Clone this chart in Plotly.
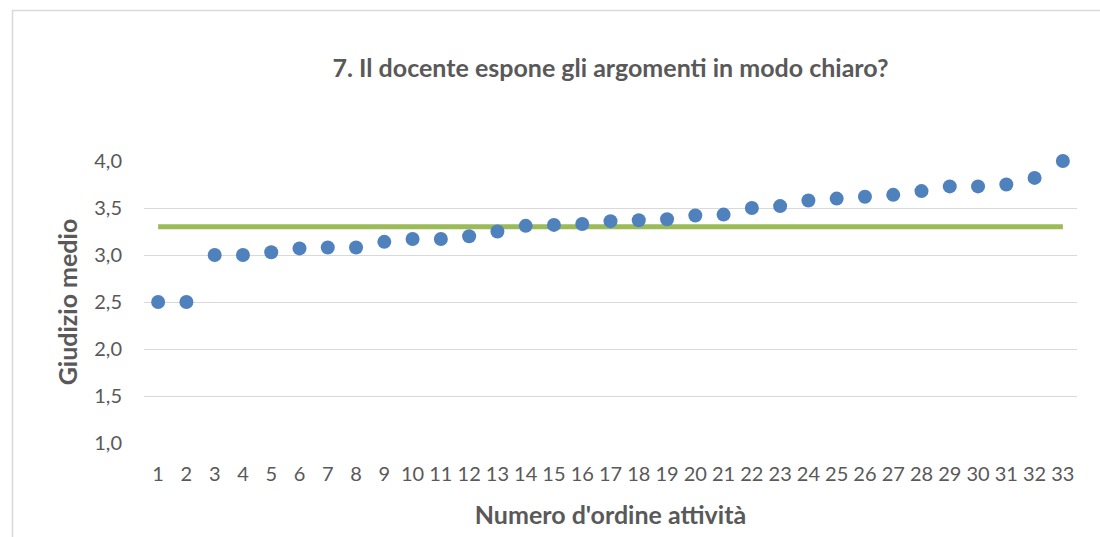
import plotly.graph_objects as go

activities = list(range(1, 34))
giudizio = [2.50, 2.50, 3.00, 3.00, 3.03, 3.07, 3.08, 3.08, 3.14, 3.17, 3.17, 3.20, 3.25,
            3.31, 3.32, 3.33, 3.36, 3.37, 3.38, 3.42, 3.43, 3.50, 3.52, 3.58, 3.60, 3.62,
            3.64, 3.68, 3.73, 3.73, 3.75, 3.82, 4.00]
media = [3.30] * len(activities)
y_ticks = [1.0, 1.5, 2.0, 2.5, 3.0, 3.5, 4.0]

W, H = 1100, 537
ml, mr, mt, mb = 144, 23, 161, 92
pw, ph = W - ml - mr, H - mt - mb

FONT = "Lato"
TXT = "#595959"

fig = go.Figure()
fig.add_trace(go.Scatter(x=activities, y=media, mode="lines",
                         line=dict(color="#9BBB59", width=5), hoverinfo="skip",
                         showlegend=False))
fig.add_trace(go.Scatter(x=activities, y=giudizio, mode="markers", cliponaxis=False,
                         marker=dict(color="#4F81BD", size=14), showlegend=False))

# outer chart border
fig.add_shape(type="rect", xref="paper", yref="paper",
              x0=(12.5 - ml) / pw, x1=(1110 - ml) / pw,
              y0=(H - mb - 545) / ph, y1=(H - mb - 9.5) / ph,
              line=dict(color="#D9D9D9", width=1.5), fillcolor="rgba(0,0,0,0)", layer="below")

fig.update_layout(
    width=W, height=H,
    margin=dict(l=ml, r=mr, t=mt, b=mb),
    paper_bgcolor="white", plot_bgcolor="white",
    separators=",.",
    font=dict(family=FONT, color=TXT, size=20),
    title=dict(text="<b>7. Il docente espone gli argomenti in modo chiaro?</b>",
               x=0.5, xref="paper", xanchor="center",
               y=1 - 68 / H, yref="container", yanchor="middle",
               font=dict(family=FONT, size=25, color=TXT)),
    xaxis=dict(range=[0.5, 33.5], tickmode="array", tickvals=activities,
               ticktext=[str(a) for a in activities],
               showgrid=False, zeroline=False, showline=False,
               ticks="", ticklabelstandoff=17,
               tickfont=dict(size=20, color=TXT),
               title=dict(text="<b>Numero d'ordine attività</b>", standoff=22,
                          font=dict(size=25, color=TXT))),
    yaxis=dict(range=[1, 4], tickmode="array", tickvals=y_ticks, tickformat=".1f",
               showgrid=True, gridcolor="#D9D9D9", gridwidth=1.3,
               zeroline=False, showline=False, ticks="", ticklabelstandoff=21,
               tickfont=dict(size=20, color=TXT),
               title=dict(text="<b>Giudizio medio</b>", standoff=9,
                          font=dict(size=25, color=TXT))),
)

fig.write_html("out.html", config={"displayModeBar": False},
               post_script="document.body.style.margin='0';document.body.style.overflow='hidden';")
